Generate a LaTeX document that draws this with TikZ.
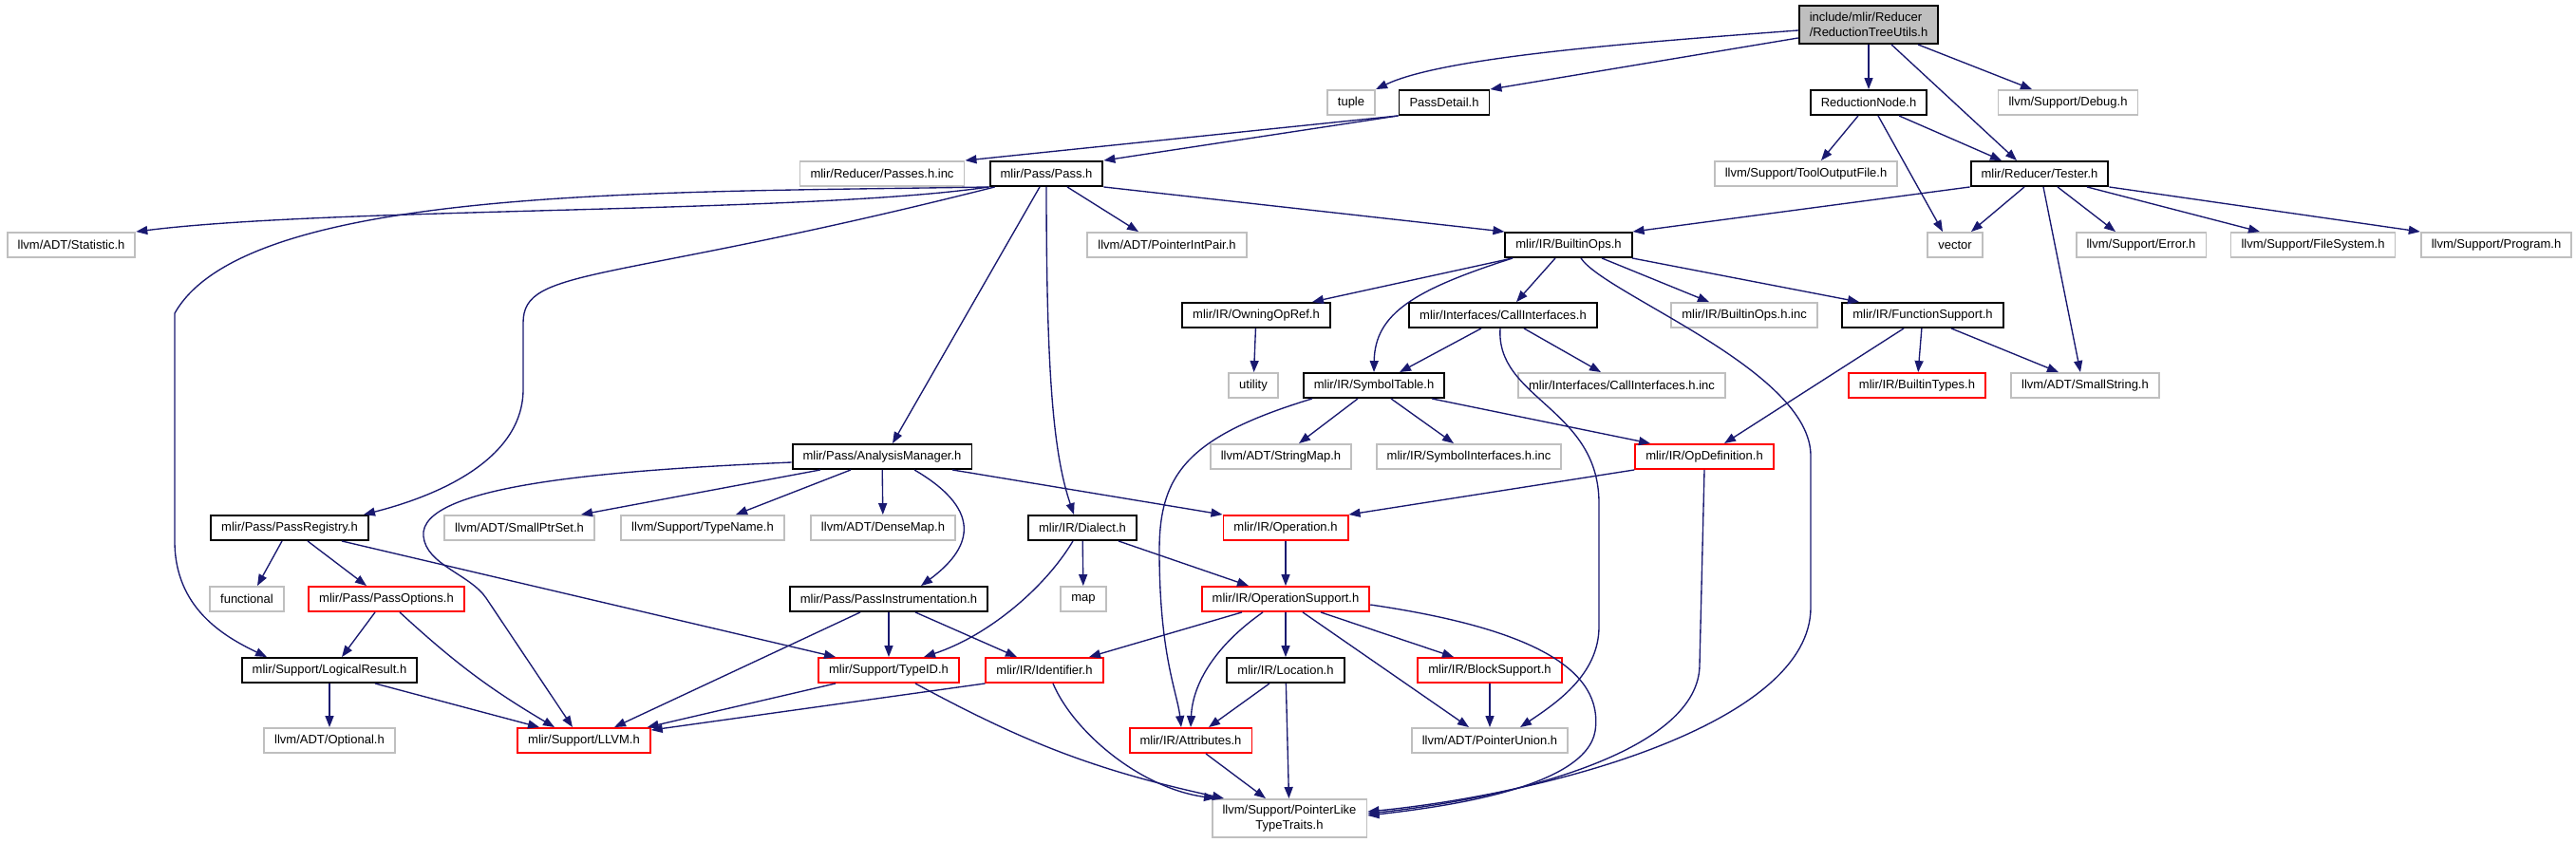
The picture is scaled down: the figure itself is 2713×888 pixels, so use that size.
\documentclass[tikz,border=0pt]{standalone}
\usepackage{fontspec}
\setmainfont{Liberation Sans}
\usetikzlibrary{arrows.meta}
\definecolor{edgeblue}{RGB}{25,25,112}
\definecolor{extgray}{RGB}{191,191,191}
\definecolor{truncred}{RGB}{255,0,0}
\definecolor{rootgray}{RGB}{191,191,191}

\begin{document}
\begin{tikzpicture}[x=1pt, y=-1pt,
    >={Triangle[length=12pt, width=9pt]},
    incfile/.style={draw=black, line width=1.9pt, fill=white, minimum height=26pt, inner xsep=11pt, inner ysep=2pt, font=\fontsize{13}{15.3}\selectfont},
    extfile/.style={incfile, draw=extgray},
    trunfile/.style={incfile, draw=truncred},
    rootfile/.style={incfile, fill=rootgray, align=left, minimum height=40pt},
    dep/.style={->, color=edgeblue, line width=1.35pt},
]
    \useasboundingbox (0,0) rectangle (2713,888);

    % Root
    \node[rootfile] (root) at (1968,26) {include/mlir/Reducer\\/ReductionTreeUtils.h};

    % Level 1
    \node[extfile] (tuple) at (1423,108) {tuple};
    \node[incfile] (passdetail) at (1521,108) {PassDetail.h};
    \node[incfile] (redn) at (1968,108) {ReductionNode.h};
    \node[extfile] (debug) at (2178,108) {llvm/Support/Debug.h};

    % Level 2
    \node[extfile] (passesinc) at (929,183) {mlir/Reducer/Passes.h.inc};
    \node[incfile] (pass) at (1102,183) {mlir/Pass/Pass.h};
    \node[extfile] (toolout) at (1902,183) {llvm/Support/ToolOutputFile.h};
    \node[incfile] (tester) at (2148,183) {mlir/Reducer/Tester.h};

    % Level 3
    \node[extfile] (statistic) at (75,258) {llvm/ADT/Statistic.h};
    \node[extfile] (ptrintpair) at (1229,258) {llvm/ADT/PointerIntPair.h};
    \node[incfile] (builtinops) at (1652,258) {mlir/IR/BuiltinOps.h};
    \node[extfile] (vector) at (2059,258) {vector};
    \node[extfile] (error) at (2255,258) {llvm/Support/Error.h};
    \node[extfile] (filesys) at (2436,258) {llvm/Support/FileSystem.h};
    \node[extfile] (program) at (2629,258) {llvm/Support/Program.h};

    % Level 4
    \node[incfile] (owning) at (1323,332) {mlir/IR/OwningOpRef.h};
    \node[incfile] (callif) at (1583,332) {mlir/Interfaces/CallInterfaces.h};
    \node[extfile] (opsinc) at (1837,332) {mlir/IR/BuiltinOps.h.inc};
    \node[incfile] (funcsup) at (2025,332) {mlir/IR/FunctionSupport.h};

    % Level 5
    \node[extfile] (utility) at (1320,406) {utility};
    \node[incfile] (symtab) at (1447,406) {mlir/IR/SymbolTable.h};
    \node[extfile] (callifinc) at (1708,406) {mlir/Interfaces/CallInterfaces.h.inc};
    \node[trunfile] (btypes) at (2019,406) {mlir/IR/BuiltinTypes.h};
    \node[extfile] (smallstr) at (2196,406) {llvm/ADT/SmallString.h};

    % Level 6
    \node[incfile] (analysis) at (929,481) {mlir/Pass/AnalysisManager.h};
    \node[extfile] (strmap) at (1349,481) {llvm/ADT/StringMap.h};
    \node[extfile] (symifinc) at (1547,481) {mlir/IR/SymbolInterfaces.h.inc};
    \node[trunfile] (opdef) at (1795,481) {mlir/IR/OpDefinition.h};

    % Level 7
    \node[incfile] (passreg) at (305,556) {mlir/Pass/PassRegistry.h};
    \node[extfile] (smallptr) at (547,556) {llvm/ADT/SmallPtrSet.h};
    \node[extfile] (typename) at (740,556) {llvm/Support/TypeName.h};
    \node[extfile] (densemap) at (930,556) {llvm/ADT/DenseMap.h};
    \node[incfile] (dialect) at (1140,556) {mlir/IR/Dialect.h};
    \node[trunfile] (operation) at (1354,556) {mlir/IR/Operation.h};

    % Level 8
    \node[extfile] (functional) at (260,631) {functional};
    \node[trunfile] (passopt) at (407,631) {mlir/Pass/PassOptions.h};
    \node[incfile] (passinstr) at (936,631) {mlir/Pass/PassInstrumentation.h};
    \node[extfile] (map) at (1141,631) {map};
    \node[trunfile] (opsupport) at (1354,631) {mlir/IR/OperationSupport.h};

    % Level 9
    \node[incfile] (logical) at (347,706) {mlir/Support/LogicalResult.h};
    \node[trunfile] (typeid) at (936,706) {mlir/Support/TypeID.h};
    \node[trunfile] (identifier) at (1100,706) {mlir/IR/Identifier.h};
    \node[incfile] (location) at (1354,706) {mlir/IR/Location.h};
    \node[trunfile] (blocksupp) at (1569,706) {mlir/IR/BlockSupport.h};

    % Level 10
    \node[extfile] (optional) at (347,780) {llvm/ADT/Optional.h};
    \node[trunfile] (llvm) at (615,780) {mlir/Support/LLVM.h};
    \node[trunfile] (attributes) at (1254,780) {mlir/IR/Attributes.h};
    \node[extfile] (ptrunion) at (1569,780) {llvm/ADT/PointerUnion.h};

    % Level 11
    \node[extfile, align=center, minimum height=40pt] (ptrlike) at (1358,862) {llvm/Support/PointerLike\\TypeTraits.h};

    % Root edges
    \draw[dep] ([yshift=-6pt]root.west) .. controls (1720,45) and (1520,60) .. (tuple.north east);
    \draw[dep] ([yshift=-14pt]root.west) -- (passdetail.north east);
    \draw[dep] (root) -- (redn);
    \draw[dep] ([xshift=24pt]root.south) -- ([xshift=-24pt]tester.north);
    \draw[dep] ([xshift=52pt]root.south) -- ([xshift=-38pt]debug.north);

    % PassDetail.h
    \draw[dep] (passdetail.south west) -- (passesinc.north east);
    \draw[dep] (passdetail.south west) -- (pass.north east);

    % ReductionNode.h
    \draw[dep] ([xshift=-11pt]redn.south) -- ([xshift=16pt]toolout.north);
    \draw[dep] ([xshift=10pt]redn.south) -- ([xshift=-13pt]vector.north);
    \draw[dep] ([xshift=32pt]redn.south) -- ([xshift=-40pt]tester.north);

    % Tester.h
    \draw[dep] (tester.south west) -- (builtinops.north east);
    \draw[dep] ([xshift=-16pt]tester.south) -- ([xshift=17pt]vector.north);
    \draw[dep] ([xshift=4pt]tester.south) -- ([xshift=-5pt]smallstr.north);
    \draw[dep] ([xshift=19pt]tester.south) -- ([xshift=-27pt]error.north);
    \draw[dep] ([xshift=50pt]tester.south) -- ([xshift=-56pt]filesys.north);
    \draw[dep] (tester.south east) -- (program.north west);

    % Pass.h
    \draw[dep] (pass.south west) .. controls (850,225) and (350,218) .. (statistic.north east);
    \draw[dep] (pass.south west) .. controls (700,203) and (260,195) .. (184,330) -- (184,570) .. controls (184,640) and (235,670) .. ([xshift=-66pt]logical.north);
    \draw[dep] ([xshift=6pt]pass.south west) .. controls (640,300) and (551,280) .. (551,340) -- (551,410) .. controls (551,480) and (470,520) .. ([xshift=78pt]passreg.north);
    \draw[dep] ([xshift=-7pt]pass.south) -- ([xshift=11pt]analysis.north);
    \draw[dep] (pass.south) .. controls (1102,400) and (1110,480) .. ([xshift=-9pt]dialect.north);
    \draw[dep] ([xshift=22pt]pass.south) -- ([xshift=-30pt]ptrintpair.north);
    \draw[dep] (pass.south east) -- (builtinops.north west);

    % BuiltinOps.h
    \draw[dep] ([xshift=-59pt]builtinops.south) -- ([xshift=59pt]owning.north);
    \draw[dep] ([xshift=-59pt]builtinops.south) .. controls (1490,305) and (1448,330) .. (symtab.north);
    \draw[dep] ([xshift=-14pt]builtinops.south) -- ([xshift=14pt]callif.north);
    \draw[dep] ([xshift=35pt]builtinops.south) -- ([xshift=-37pt]opsinc.north);
    \draw[dep] ([xshift=67pt]builtinops.south) -- ([xshift=-67pt]funcsup.north);
    \draw[dep] ([xshift=13pt]builtinops.south) .. controls (1690,310) and (1907,390) .. (1907,480) -- (1907,640) .. controls (1907,760) and (1640,835) .. ([yshift=7pt]ptrlike.east);

    % CallInterfaces.h
    \draw[dep] ([xshift=-23pt]callif.south) -- ([xshift=27pt]symtab.north);
    \draw[dep] ([xshift=22pt]callif.south) -- ([xshift=-22pt]callifinc.north);
    \draw[dep] ([xshift=-3pt]callif.south) .. controls (1575,420) and (1684,430) .. (1684,530) -- (1684,660) .. controls (1684,710) and (1640,740) .. ([xshift=32pt]ptrunion.north);

    % OwningOpRef.h, FunctionSupport.h
    \draw[dep] (owning) -- (utility);
    \draw[dep] ([xshift=-20pt]funcsup.south) -- ([xshift=21pt]opdef.north);
    \draw[dep] (funcsup) -- (btypes);
    \draw[dep] ([xshift=30pt]funcsup.south) -- ([xshift=-28pt]smallstr.north);

    % SymbolTable.h
    \draw[dep] ([xshift=-17pt]symtab.south) -- ([xshift=19pt]strmap.north);
    \draw[dep] ([xshift=18pt]symtab.south) -- ([xshift=-16pt]symifinc.north);
    \draw[dep] ([xshift=61pt]symtab.south) -- ([xshift=-57pt]opdef.north);
    \draw[dep] ([xshift=-65pt]symtab.south) .. controls (1250,460) and (1221,500) .. (1221,580) .. controls (1221,690) and (1240,730) .. ([xshift=-10pt]attributes.north);

    % OpDefinition.h
    \draw[dep] (opdef.south west) -- (operation.north east);
    \draw[dep] (opdef.south) -- (1790,700) .. controls (1790,790) and (1600,840) .. ([yshift=5pt]ptrlike.east);

    % AnalysisManager.h
    \draw[dep] ([yshift=-6pt]analysis.west) .. controls (650,495) and (440,510) .. (446,565) .. controls (449,595) and (495,605) .. (512,630) -- ([xshift=-12pt]llvm.north);
    \draw[dep] ([xshift=-65pt]analysis.south) -- ([xshift=65pt]smallptr.north);
    \draw[dep] ([xshift=-33pt]analysis.south) -- ([xshift=35pt]typename.north);
    \draw[dep] (analysis) -- (densemap);
    \draw[dep] ([xshift=74pt]analysis.south) -- (operation.north west);
    \draw[dep] ([xshift=34pt]analysis.south) .. controls (1040,540) and (1020,580) .. ([xshift=34pt]passinstr.north);

    % PassRegistry.h
    \draw[dep] ([xshift=-8pt]passreg.south) -- ([xshift=11pt]functional.north);
    \draw[dep] ([xshift=19pt]passreg.south) -- ([xshift=-21pt]passopt.north);
    \draw[dep] ([xshift=55pt]passreg.south) -- ([xshift=-56pt]typeid.north);

    % PassOptions.h, LogicalResult.h
    \draw[dep] ([xshift=-12pt]passopt.south) -- ([xshift=13pt]logical.north);
    \draw[dep] ([xshift=14pt]passopt.south) to[bend right=6] ([xshift=-31pt]llvm.north);
    \draw[dep] (logical) -- (optional);
    \draw[dep] ([xshift=48pt]logical.south) -- ([xshift=-47pt]llvm.north);

    % PassInstrumentation.h
    \draw[dep] ([xshift=-30pt]passinstr.south) -- ([xshift=32pt]llvm.north);
    \draw[dep] (passinstr) -- (typeid);
    \draw[dep] ([xshift=28pt]passinstr.south) -- ([xshift=-29pt]identifier.north);

    % Dialect.h, Operation.h
    \draw[dep] ([xshift=-10pt]dialect.south) .. controls (1100,620) and (1040,670) .. ([xshift=37pt]typeid.north);
    \draw[dep] (dialect) -- (map);
    \draw[dep] ([xshift=38pt]dialect.south) -- ([xshift=-39pt]opsupport.north);
    \draw[dep] (operation) -- (opsupport);

    % OperationSupport.h
    \draw[dep] ([xshift=-46pt]opsupport.south) -- ([xshift=47pt]identifier.north);
    \draw[dep] ([xshift=-24pt]opsupport.south) .. controls (1280,680) and (1256,720) .. (attributes.north);
    \draw[dep] (opsupport) -- (location);
    \draw[dep] ([xshift=18pt]opsupport.south) -- ([xshift=-22pt]ptrunion.north);
    \draw[dep] ([xshift=37pt]opsupport.south) -- ([xshift=-38pt]blocksupp.north);
    \draw[dep] ([yshift=-6pt]opsupport.east) .. controls (1600,660) and (1690,700) .. (1680,770) .. controls (1670,830) and (1520,850) .. ([yshift=3pt]ptrlike.east);

    % Bottom rows
    \draw[dep] ([xshift=-56pt]typeid.south) -- ([xshift=-4pt]llvm.north east);
    \draw[dep] ([xshift=28pt]typeid.south) to[bend right=8] ([xshift=-69pt]ptrlike.north);
    \draw[dep] (identifier.south west) -- ([yshift=-3pt]llvm.north east);
    \draw[dep] ([xshift=9pt]identifier.south) .. controls (1130,770) and (1200,830) .. ([xshift=-78pt]ptrlike.north);
    \draw[dep] ([xshift=-17pt]location.south) -- ([xshift=19pt]attributes.north);
    \draw[dep] (location) -- (ptrlike);
    \draw[dep] (blocksupp) -- (ptrunion);
    \draw[dep] ([xshift=16pt]attributes.south) -- ([xshift=-25pt]ptrlike.north);
\end{tikzpicture}
\end{document}
